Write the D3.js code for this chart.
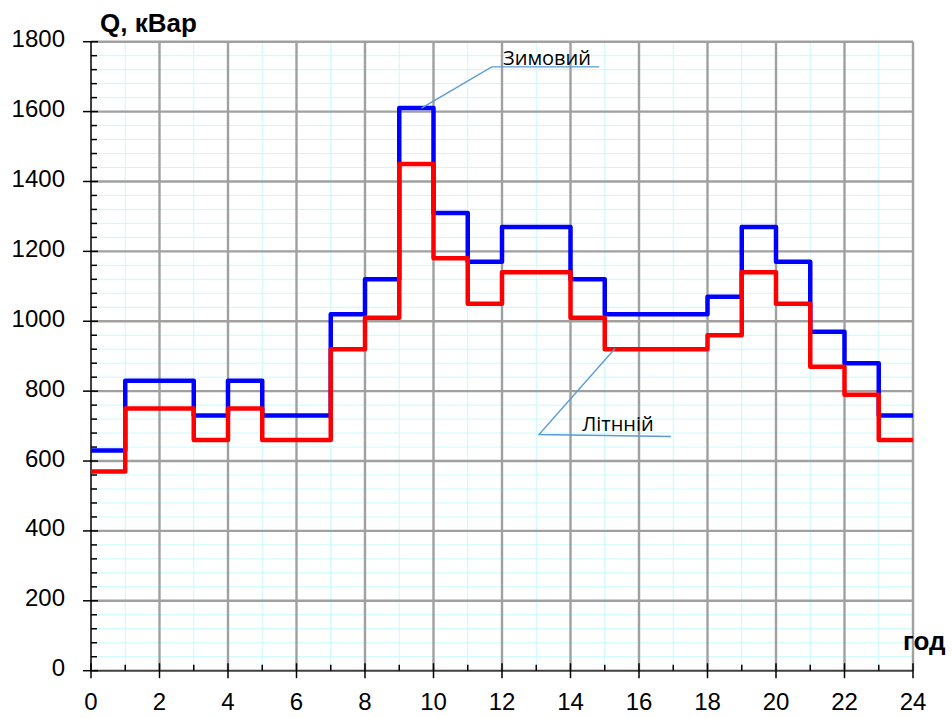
<!DOCTYPE html>
<html>
<head>
<meta charset="utf-8">
<script src="https://cdn.jsdelivr.net/npm/d3@7"></script>
<style>
  html, body { margin: 0; padding: 0; background: #fff; }
  svg { display: block; font-family: "Liberation Sans", Arial, sans-serif; }
</style>
</head>
<body>
<div id="chart"></div>
<script>
// hourly reactive load, kVar
const hours = [0, 1, 2, 3, 4, 5, 6, 7, 8, 9, 10, 11, 12, 13, 14, 15, 16, 17, 18, 19, 20, 21, 22, 23];
const winter = [630, 830, 830, 730, 830, 730, 730, 1020, 1120, 1610, 1310, 1170,
  1270, 1270, 1120, 1020, 1020, 1020, 1070, 1270, 1170, 970, 880, 730];
const summer = [570, 750, 750, 660, 750, 660, 660, 920, 1010, 1450, 1180, 1050,
  1140, 1140, 1010, 920, 920, 920, 960, 1140, 1050, 870, 790, 660];

const xTicks = [0, 2, 4, 6, 8, 10, 12, 14, 16, 18, 20, 22, 24];
const yTicks = [0, 200, 400, 600, 800, 1000, 1200, 1400, 1600, 1800];

// callouts: anchor on the line, elbow, end of underline, text position (data units)
const callouts = [
  { label: 'Зимовий', pts: [[9.65, 1610], [11.7, 1728], [14.84, 1728]], text: [12.03, 1733] },
  { label: 'Літнній', pts: [[15.3, 922], [13.08, 676], [16.93, 670]], text: [14.34, 686] }
];

const width = 952, height = 718;
const margin = { top: 41.7, right: 39, bottom: 47.3, left: 91 };

const svg = d3.select('#chart')
  .append('svg')
  .attr('width', width)
  .attr('height', height);

const x = d3.scaleLinear().domain([0, 24]).range([margin.left, width - margin.right]);
const y = d3.scaleLinear().domain([0, 1800]).range([height - margin.bottom, margin.top]);

// minor grid
const grid = svg.append('g');
grid.selectAll('.hmin')
  .data(d3.range(40, 1800, 40).filter((v) => v % 200 !== 0))
  .join('line')
  .attr('x1', x(0)).attr('x2', x(24))
  .attr('y1', (d) => y(d)).attr('y2', (d) => y(d))
  .attr('stroke', '#c8fafa').attr('stroke-width', 1);
grid.selectAll('.vmin')
  .data(hours.filter((h) => h % 2 === 1))
  .join('line')
  .attr('x1', (d) => x(d)).attr('x2', (d) => x(d))
  .attr('y1', y(0)).attr('y2', y(1800))
  .attr('stroke', '#c8fafa').attr('stroke-width', 1);

// major grid
grid.selectAll('.hmaj')
  .data(yTicks.slice(1))
  .join('line')
  .attr('x1', x(0)).attr('x2', x(24))
  .attr('y1', (d) => y(d)).attr('y2', (d) => y(d))
  .attr('stroke', '#a0a0a0').attr('stroke-width', 2.4);
grid.selectAll('.vmaj')
  .data(xTicks.slice(1))
  .join('line')
  .attr('x1', (d) => x(d)).attr('x2', (d) => x(d))
  .attr('y1', y(0)).attr('y2', y(1800))
  .attr('stroke', '#a0a0a0').attr('stroke-width', 2.4);

// x axis
const xAxis = svg.append('g')
  .attr('transform', `translate(0,${y(0)})`);
xAxis.append('line')
  .attr('x1', x(0)).attr('x2', x(24))
  .attr('stroke', '#404040').attr('stroke-width', 2);
xAxis.selectAll('.tmin')
  .data(hours.filter((h) => h % 2 === 1))
  .join('line')
  .attr('x1', (d) => x(d)).attr('x2', (d) => x(d))
  .attr('y1', -6).attr('y2', 0)
  .attr('stroke', '#000').attr('stroke-width', 1.5);
xAxis.selectAll('.tmaj')
  .data(xTicks)
  .join('line')
  .attr('x1', (d) => x(d)).attr('x2', (d) => x(d))
  .attr('y1', -7.5).attr('y2', 7.5)
  .attr('stroke', '#000').attr('stroke-width', 1.5);
xAxis.selectAll('text')
  .data(xTicks)
  .join('text')
  .attr('x', (d) => x(d))
  .attr('y', 39.5)
  .attr('text-anchor', 'middle')
  .attr('font-size', 24)
  .attr('fill', '#000')
  .text((d) => d);

// y axis
const yAxis = svg.append('g')
  .attr('transform', `translate(${x(0)},0)`);
yAxis.append('line')
  .attr('y1', y(0)).attr('y2', y(1800))
  .attr('stroke', '#000').attr('stroke-width', 1.5);
yAxis.selectAll('.tmin')
  .data(d3.range(40, 1800, 40).filter((v) => v % 200 !== 0))
  .join('line')
  .attr('x1', 0).attr('x2', 6)
  .attr('y1', (d) => y(d)).attr('y2', (d) => y(d))
  .attr('stroke', '#000').attr('stroke-width', 1.5);
yAxis.selectAll('.tmaj')
  .data(yTicks)
  .join('line')
  .attr('x1', -8).attr('x2', 7)
  .attr('y1', (d) => y(d)).attr('y2', (d) => y(d))
  .attr('stroke', '#000').attr('stroke-width', 1.5);
yAxis.selectAll('text')
  .data(yTicks)
  .join('text')
  .attr('x', -26)
  .attr('y', (d) => y(d) + 5.5)
  .attr('text-anchor', 'end')
  .attr('font-size', 24)
  .attr('fill', '#000')
  .text((d) => d);

// step lines
const line = d3.line()
  .x((d) => x(d[0]))
  .y((d) => y(d[1]))
  .curve(d3.curveStepAfter);

const series = [
  { values: winter, color: '#0000ff' },
  { values: summer, color: '#ff0000' }
];
series.forEach((s) => {
  const pts = hours.map((h, i) => [h, s.values[i]]);
  pts.push([24, s.values[s.values.length - 1]]);
  svg.append('path')
    .datum(pts)
    .attr('d', line)
    .attr('fill', 'none')
    .attr('stroke', s.color)
    .attr('stroke-width', 4.5)
    .attr('stroke-linejoin', 'round');
});

// callouts
const plain = d3.line().x((d) => x(d[0])).y((d) => y(d[1]));
callouts.forEach((c) => {
  svg.append('path')
    .attr('d', plain(c.pts))
    .attr('fill', 'none')
    .attr('stroke', '#5b9bd5')
    .attr('stroke-width', 1.4);
  svg.append('text')
    .attr('x', x(c.text[0]))
    .attr('y', y(c.text[1]))
    .style('font-family', '"Open Sans", sans-serif')
    .attr('font-size', 20)
    .attr('fill', '#000')
    .text(c.label);
});

// axis titles
svg.append('text')
  .attr('x', 100).attr('y', 32)
  .attr('font-size', 26)
  .attr('font-weight', 'bold')
  .text('Q, кВар');
svg.append('text')
  .attr('x', 903).attr('y', 650)
  .attr('font-size', 26)
  .attr('font-weight', 'bold')
  .text('год');
</script>
</body>
</html>
